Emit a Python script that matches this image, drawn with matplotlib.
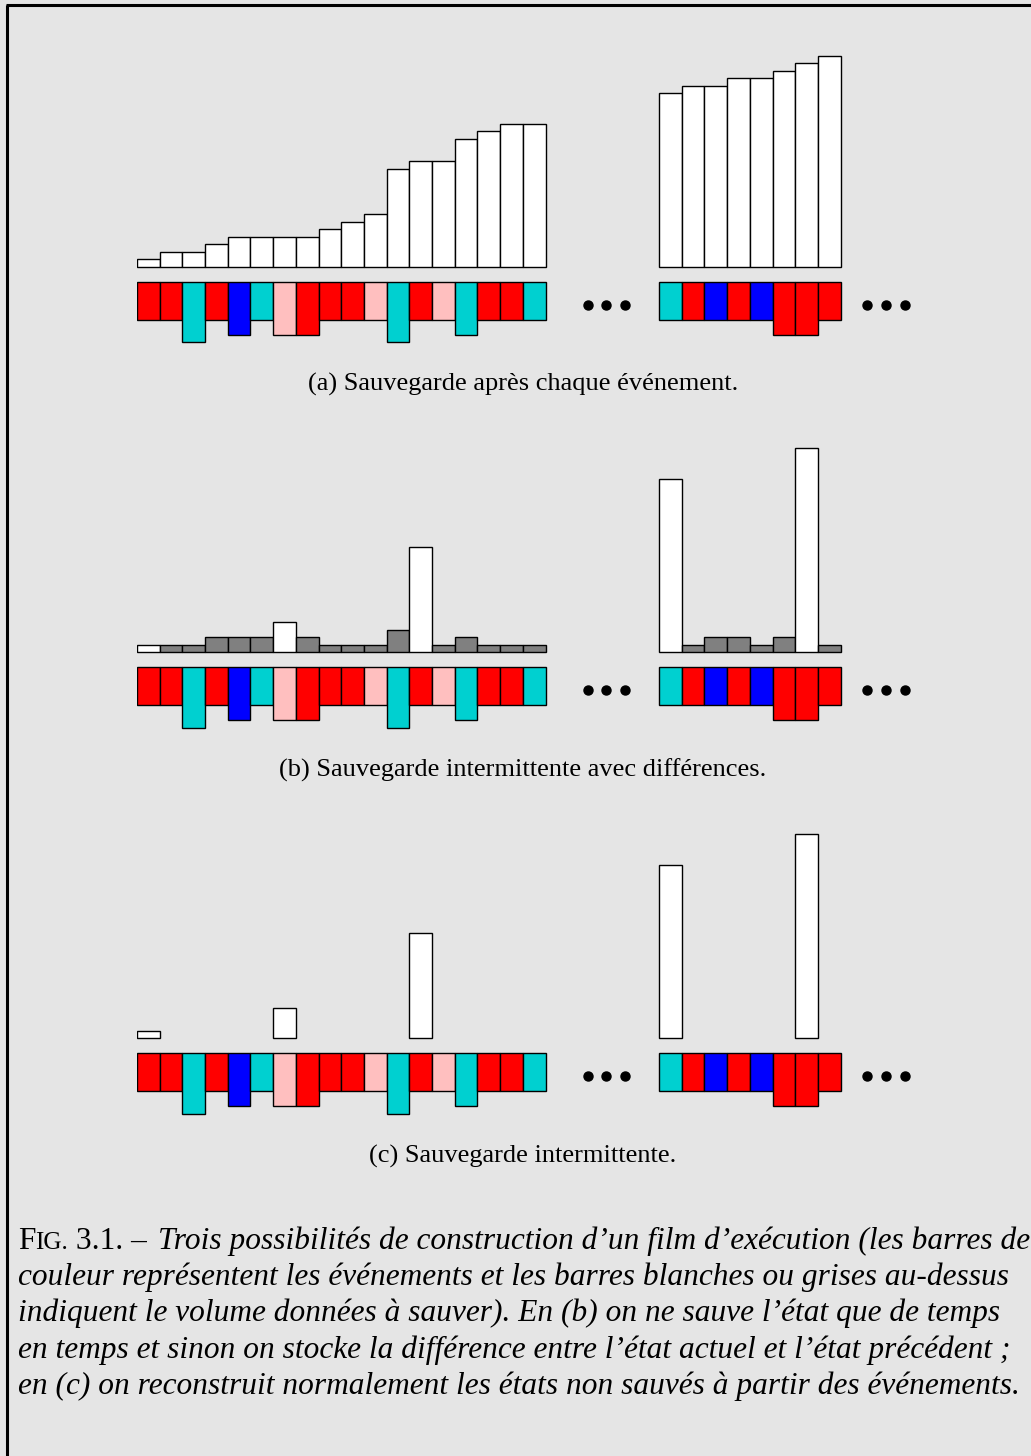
import matplotlib
matplotlib.use("Agg")
import matplotlib.pyplot as plt
from matplotlib.lines import Line2D

# ---- data (bar heights in "volume units") ----
# events below the saved-state bars: colour code and depth
event_colors_left = ['r', 'r', 'c', 'r', 'b', 'c', 'p', 'r', 'r', 'r', 'p', 'c', 'r', 'p', 'c', 'r', 'r', 'c']
event_depth_left = [5, 5, 8, 5, 7, 5, 7, 7, 5, 5, 5, 8, 5, 5, 7, 5, 5, 5]
event_colors_right = ['c', 'r', 'b', 'r', 'b', 'r', 'r', 'r']
event_depth_right = [5, 5, 5, 5, 5, 7, 7, 5]

# (a) full save after each event
save_a_left = [1, 2, 2, 3, 4, 4, 4, 4, 5, 6, 7, 13, 14, 14, 17, 18, 19, 19]
save_a_right = [23, 24, 24, 25, 25, 26, 27, 28]

# (b) intermittent full save (w) + differences (g)
save_b_left = [1, 1, 1, 2, 2, 2, 4, 2, 1, 1, 1, 3, 14, 1, 2, 1, 1, 1]
kind_b_left = ['w', 'g', 'g', 'g', 'g', 'g', 'w', 'g', 'g', 'g', 'g', 'g', 'w', 'g', 'g', 'g', 'g', 'g']
save_b_right = [23, 1, 2, 2, 1, 2, 27, 1]
kind_b_right = ['w', 'g', 'g', 'g', 'g', 'g', 'w', 'g']

# (c) intermittent save only (0 = nothing saved)
save_c_left = [1, 0, 0, 0, 0, 0, 4, 0, 0, 0, 0, 0, 14, 0, 0, 0, 0, 0]
save_c_right = [23, 0, 0, 0, 0, 0, 27, 0]

subcaptions = ["(a) Sauvegarde après chaque événement.",
               "(b) Sauvegarde intermittente avec différences.",
               "(c) Sauvegarde intermittente."]

caption_lines = [
    "couleur représentent les événements et les barres blanches ou grises au-dessus",
    "indiquent le volume données à sauver). En (b) on ne sauve l’état que de temps",
    "en temps et sinon on stocke la différence entre l’état actuel et l’état précédent ;",
    "en (c) on reconstruit normalement les états non sauvés à partir des événements.",
]

event_palette = {'r': '#FF0000', 'c': '#00D0D0', 'b': '#0000FF', 'p': '#FFBFBF'}
save_palette = {'w': '#FFFFFF', 'g': '#808080'}

BG = '#E5E5E5'
W, H = 1031, 1456
X0 = 137          # px of first bar left edge
XU = 22.7         # px per bar
YU = 7.55         # px per volume unit
RIGHT_START = 23  # index where right group starts
EVENT_TOP = -2    # events start 2 units below baseline

fig = plt.figure(figsize=(W / 100, H / 100), dpi=100, facecolor=BG)
serif = ['Liberation Serif', 'DejaVu Serif']


def make_axes(base_px):
    ylo, yhi = -14, 30
    left = X0 / W
    bottom = 1 - (base_px - ylo * YU) / H
    ax = fig.add_axes([left, bottom, 36 * XU / W, (yhi - ylo) * YU / H])
    ax.set_xlim(0, 36)
    ax.set_ylim(ylo, yhi)
    ax.axis('off')
    ax.patch.set_alpha(0)
    return ax


def draw_events(ax):
    for start, cols, deps in [(0, event_colors_left, event_depth_left),
                              (RIGHT_START, event_colors_right, event_depth_right)]:
        xs = [start + i for i in range(len(cols))]
        ax.bar(xs, [-d for d in deps], bottom=EVENT_TOP, width=1, align='edge',
               color=[event_palette[c] for c in cols], edgecolor='black', linewidth=1.0)
    # ellipsis dots after each group
    for end, gap in ((len(event_colors_left), 1.85),
                     (RIGHT_START + len(event_colors_right), 1.16)):
        dx = [end + gap + k * 0.83 for k in range(3)]
        ax.plot(dx, [-5] * 3, 'o', color='black', markersize=6.5, linestyle='none')


def draw_saves(ax, left, right, kl=None, kr=None):
    for start, vals, kinds in [(0, left, kl), (RIGHT_START, right, kr)]:
        xs, hs, cs = [], [], []
        for i, v in enumerate(vals):
            if v == 0:
                continue
            xs.append(start + i)
            hs.append(v)
            cs.append(save_palette[kinds[i]] if kinds else 'white')
        ax.bar(xs, hs, width=1, align='edge', color=cs, edgecolor='black', linewidth=1.0)


bases = [267, 652.3, 1038.3]

ax_a = make_axes(bases[0])
draw_saves(ax_a, save_a_left, save_a_right)
draw_events(ax_a)

ax_b = make_axes(bases[1])
draw_saves(ax_b, save_b_left, save_b_right, kind_b_left, kind_b_right)
draw_events(ax_b)

ax_c = make_axes(bases[2])
draw_saves(ax_c, save_c_left, save_c_right)
draw_events(ax_c)

for base, txt in zip(bases, subcaptions):
    fig.text(523 / W, 1 - (base + 124) / H, txt, ha='center', va='baseline',
             fontsize=19, family=serif)

# frame (left and top only, rest is cut off)
fig.add_artist(Line2D([6.5 / W, 6.5 / W], [0, 1 - 5 / H], color='black', lw=2.2,
                      transform=fig.transFigure, solid_capstyle='butt'))
fig.add_artist(Line2D([5.5 / W, 1], [1 - 5 / H, 1 - 5 / H], color='black', lw=2.2,
                      transform=fig.transFigure, solid_capstyle='butt'))

# main caption: "FIG. 3.1. – " in small caps, then italic text
renderer = fig.canvas.get_renderer()
cap_fs = 22.6
line1_base = 1249
x = 18
pieces = [("F", cap_fs, 'normal', 0), ("IG.", cap_fs * 0.8, 'normal', 0),
          (" 3.1. – ", cap_fs, 'normal', 3),
          ("Trois possibilités de construction d’un film d’exécution (les barres de", cap_fs, 'italic', 0)]
for txt, fs, style, pad in pieces:
    t = fig.text(x / W, 1 - line1_base / H, txt, ha='left', va='baseline',
                 fontsize=fs, family=serif, style=style)
    bb = t.get_window_extent(renderer=renderer)
    x += bb.width + pad

for k, line in enumerate(caption_lines):
    fig.text(18 / W, 1 - (line1_base + 36.2 * (k + 1)) / H, line, ha='left', va='baseline',
             fontsize=cap_fs, family=serif, style='italic')

fig.savefig('out.png', dpi=100, facecolor=BG)
